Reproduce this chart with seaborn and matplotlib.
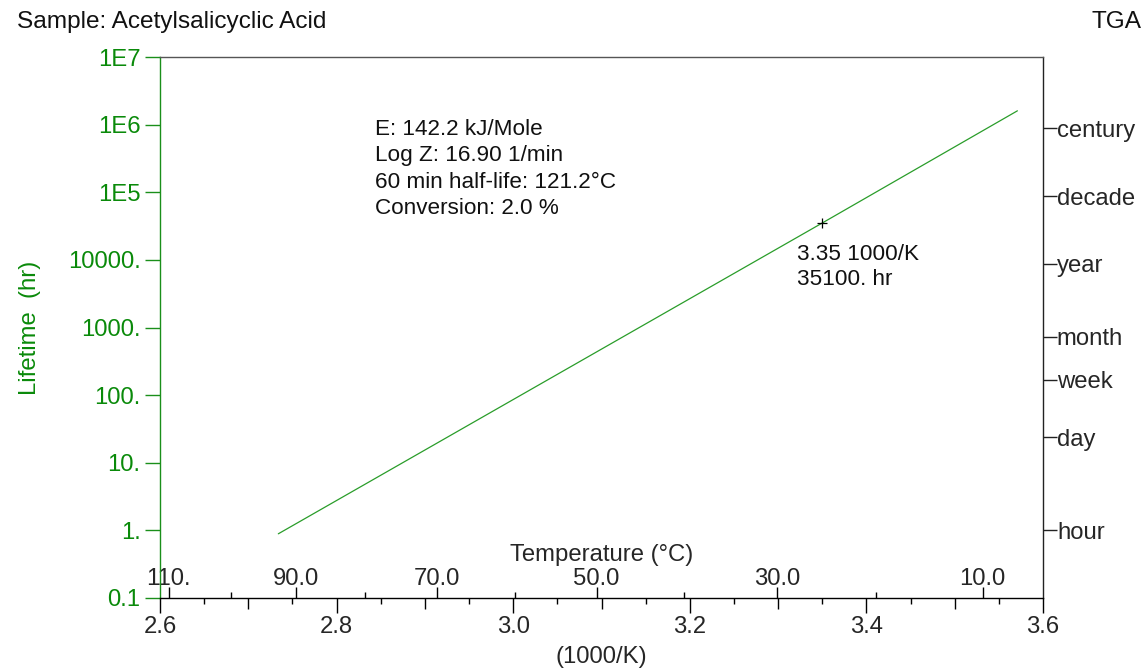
import numpy as np
import pandas as pd
import matplotlib
matplotlib.use("Agg")
import matplotlib.pyplot as plt
import matplotlib.ticker as mticker
import seaborn as sns

# ---- data ----
inv_temp = [2.734, 3.0, 3.35, 3.571]          # 1000/K
lifetime = [0.89, 86.0, 35100.0, 1.6e6]       # hours

cursor_x = 3.35
cursor_y = 35100.0

y_ticks = [0.1, 1, 10, 100, 1000, 10000, 1e5, 1e6, 1e7]
y_labels = ["0.1", "1.", "10.", "100.", "1000.", "10000.", "1E5", "1E6", "1E7"]

x_ticks = [2.6, 2.8, 3.0, 3.2, 3.4, 3.6]
x_labels = ["2.6", "2.8", "3.0", "3.2", "3.4", "3.6"]
x_mid_ticks = [2.7, 2.9, 3.1, 3.3, 3.5]

temp_major = [110, 90, 70, 50, 30, 10]
temp_labels = ["110.", "90.0", "70.0", "50.0", "30.0", "10.0"]
temp_minor = [100, 80, 60, 40, 20]

time_names = ["hour", "day", "week", "month", "year", "decade", "century"]
time_hours = [1, 24, 168, 730.5, 8766, 87660, 876600]

info_lines = ["E: 142.2 kJ/Mole", "Log Z: 16.90 1/min",
              "60 min half-life: 121.2\u00b0C", "Conversion: 2.0 %"]

df = pd.DataFrame({"x": inv_temp, "y": lifetime})

sns.set_style("white")
plt.rcParams["font.family"] = ["Liberation Sans", "DejaVu Sans"]
FS = 17.2      # axis tick labels / titles
FS_T = 16.2    # text blocks
GREEN_TXT = "#0a8a0a"
GREEN_AX = "#1a8f1a"
LINE_C = "#2a9d2a"

fig, ax = plt.subplots(figsize=(11.48, 6.68), dpi=100)
fig.subplots_adjust(left=160/1148, right=1043/1148, top=1-57/668, bottom=1-598/668)

sns.lineplot(data=df, x="x", y="y", ax=ax, color=LINE_C, linewidth=0.9)
ax.set_yscale("log")
ax.set_xlim(2.6, 3.6)
ax.set_ylim(0.1, 1e7)

# cursor marker
ax.plot([cursor_x], [cursor_y], marker="+", color="black", markersize=7, mew=0.9)
ax.annotate(f"{cursor_x:.2f} 1000/K\n{cursor_y:.0f}. hr", xy=(cursor_x, cursor_y),
            xytext=(-18, -15), textcoords="offset points", ha="left", va="top",
            fontsize=FS_T, color="#111111", linespacing=1.25)

# info block
ax.text((375-160)/883, (598-119)/541, "\n".join(info_lines), transform=ax.transAxes,
        ha="left", va="top", fontsize=FS_T, color="#111111", linespacing=1.33)

# left axis
ax.set_yticks(y_ticks)
ax.set_yticklabels(y_labels)
ax.yaxis.set_minor_locator(mticker.NullLocator())
ax.tick_params(axis="y", which="major", direction="out", length=11, width=1,
               color=GREEN_AX, labelcolor=GREEN_TXT, labelsize=FS, pad=3, left=True)
ax.set_ylabel("Lifetime  (hr)", color=GREEN_TXT, fontsize=FS, labelpad=19)

# bottom axis
ax.set_xticks(x_ticks)
ax.set_xticklabels(x_labels)
ax.set_xticks(np.arange(2.65, 3.6, 0.1), minor=True)
ax.tick_params(axis="x", which="major", direction="out", length=11, width=1,
               color="black", labelsize=FS, pad=2, bottom=True)
ax.tick_params(axis="x", which="minor", direction="out", length=4, width=1,
               color="black", bottom=True)
ax.set_xlabel("(1000/K)", fontsize=FS, labelpad=6)

mid = ax.secondary_xaxis("bottom")
mid.set_xticks(x_mid_ticks)
mid.set_xticklabels([""] * len(x_mid_ticks))
mid.tick_params(axis="x", direction="out", length=8, width=1, color="black")
mid.spines["bottom"].set_visible(False)

ax.spines["left"].set_color(GREEN_AX)
ax.spines["bottom"].set_color("black")
ax.spines["top"].set_color("#555555")
ax.spines["right"].set_color("#222222")
for s in ax.spines.values():
    s.set_linewidth(1)

# temperature axis inside the plot
def k2c(x):
    x = np.asarray(x, dtype=float)
    with np.errstate(divide="ignore"):
        return 1000.0 / x - 273.15

def c2k(c):
    c = np.asarray(c, dtype=float)
    with np.errstate(divide="ignore"):
        return 1000.0 / (c + 273.15)

temp = ax.secondary_xaxis(0.0, functions=(k2c, c2k))
temp.set_alignment("top")
temp.set_xticks(temp_major)
temp.set_xticklabels(temp_labels)
temp.set_xticks(temp_minor, minor=True)
temp.tick_params(axis="x", which="major", direction="out", length=8, width=1,
                 color="black", labelsize=FS, pad=-2)
temp.tick_params(axis="x", which="minor", direction="out", length=4, width=1,
                 color="black")
temp.set_xlabel("Temperature (\u00b0C)", fontsize=FS, labelpad=5)
temp.spines["top"].set_visible(False)

# right axis with time units
rax = ax.twinx()
rax.set_yscale("log")
rax.set_ylim(0.1, 1e7)
rax.set_yticks(time_hours)
rax.set_yticklabels(time_names)
rax.yaxis.set_minor_locator(mticker.NullLocator())
rax.tick_params(axis="y", which="major", direction="out", length=10, width=1,
                color="#222222", labelsize=FS, pad=0, right=True)
for s in rax.spines.values():
    s.set_visible(False)

fig.text(17/1148, 1-22/668, "Sample: Acetylsalicyclic Acid", ha="left", va="center",
         fontsize=17.6, color="#111111")
fig.text(1141/1148, 1-22/668, "TGA", ha="right", va="center", fontsize=17.6, color="#111111")

fig.savefig("out.png", dpi=100)
